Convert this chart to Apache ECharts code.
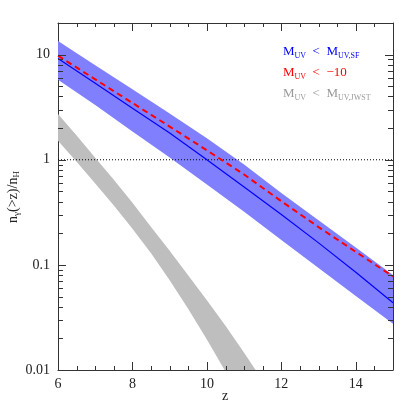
<!DOCTYPE html>
<html lang="en">
<head>
<meta charset="UTF-8">
<script src="https://cdn.jsdelivr.net/npm/echarts@6/dist/echarts.min.js"></script>
<style>
  html, body { margin: 0; padding: 0; background: #fff; }
  #main { width: 415px; height: 415px; }
</style>
</head>
<body>
<div id="main"></div>
<script>
// blue band: photon density for M_UV < M_UV,SF
var zSf = [6, 7, 8, 9, 10, 11, 12, 13, 14, 15];
var sfUpper = [13.5, 7.94, 4.68, 2.75, 1.60, 0.90, 0.484, 0.266, 0.146, 0.080];
var sfLower = [5.77, 3.31, 1.86, 1.05, 0.582, 0.32, 0.172, 0.0933, 0.0507, 0.0275];
var sfMid = [9.2, 5.33, 3.09, 1.80, 1.0, 0.55, 0.302, 0.162, 0.085, 0.0437];
var cutMinus10 = [9.77, 5.82, 3.47, 2.07, 1.23, 0.724, 0.403, 0.229, 0.133, 0.0776];

// gray band: M_UV < M_UV,JWST
var zJwst = [6, 6.5, 7, 7.5, 8, 8.5, 9, 9.5, 10, 10.5, 11, 11.5];
var jwstUpper = [2.73, 1.70, 1.047, 0.646, 0.389, 0.229, 0.1365, 0.0794, 0.0462, 0.0263, 0.0146, 0.0079];
var jwstLower = [1.514, 0.955, 0.596, 0.367, 0.221, 0.129, 0.0716, 0.0380, 0.0195, 0.00966, 0.00462, 0.00214];

// reference level n_gamma / n_H = 1
var unityZ = [6, 15];
var unityLevel = [1, 1];

// ticks
var xMajor = [6, 8, 10, 12, 14];
var xMinor = [6.5, 7, 7.5, 8.5, 9, 9.5, 10.5, 11, 11.5, 12.5, 13, 13.5, 14.5];
var yMajor = [0.01, 0.1, 1, 10];
var yMinor = [0.02, 0.03, 0.04, 0.05, 0.06, 0.07, 0.08, 0.09,
              0.2, 0.3, 0.4, 0.5, 0.6, 0.7, 0.8, 0.9,
              2, 3, 4, 5, 6, 7, 8, 9];

var serif = 'Liberation Serif';
var axisColor = '#333';

function pairs(xs, ys) {
    return xs.map(function (x, i) { return [x, ys[i]]; });
}

function band(zs, upper, lower, color) {
    return {
        type: 'custom',
        silent: true,
        data: [[zs[0], upper[0]]],
        renderItem: function (params, api) {
            var pts = [];
            for (var i = 0; i < zs.length; i++) pts.push(api.coord([zs[i], upper[i]]));
            for (var j = zs.length - 1; j >= 0; j--) pts.push(api.coord([zs[j], lower[j]]));
            var cs = params.coordSys;
            return {
                type: 'polygon',
                shape: { points: pts },
                style: { fill: color },
                clipPath: { type: 'rect', shape: { x: cs.x, y: cs.y, width: cs.width, height: cs.height } }
            };
        }
    };
}

// inward ticks on both opposite frame edges, placed through the axis scales
function ticks(values, isX, len) {
    return {
        type: 'custom',
        silent: true,
        z: 5,
        data: values.map(function (v) { return isX ? [v, 1] : [6, v]; }),
        renderItem: function (params, api) {
            var cs = params.coordSys;
            var p = api.coord([api.value(0), api.value(1)]);
            var st = { stroke: axisColor, lineWidth: 1 };
            if (isX) {
                var x = Math.round(p[0]) + 0.5;
                var b = cs.y + cs.height, t = cs.y;
                return { type: 'group', children: [
                    { type: 'line', shape: { x1: x, y1: b, x2: x, y2: b - len }, style: st },
                    { type: 'line', shape: { x1: x, y1: t, x2: x, y2: t + len }, style: st }
                ] };
            }
            var y = Math.round(p[1]) + 0.5;
            var l = cs.x, r = cs.x + cs.width;
            return { type: 'group', children: [
                { type: 'line', shape: { x1: l, y1: y, x2: l + len, y2: y }, style: st },
                { type: 'line', shape: { x1: r, y1: y, x2: r - len, y2: y }, style: st }
            ] };
        }
    };
}

function xAx(pos, labels) {
    return {
        type: 'value', min: 6, max: 15, position: pos,
        axisLine: { show: true, onZero: false, lineStyle: { color: axisColor, width: 1 } },
        splitLine: { show: false },
        axisTick: { show: false },
        axisLabel: labels ? {
            customValues: xMajor, margin: 7, color: '#222',
            fontFamily: serif, fontSize: 14
        } : { show: false }
    };
}

function yAx(pos, labels) {
    return {
        type: 'log', logBase: 10, min: 0.01, max: 20, position: pos,
        axisLine: { show: true, onZero: false, lineStyle: { color: axisColor, width: 1 } },
        splitLine: { show: false },
        axisTick: { show: false },
        axisLabel: labels ? {
            customValues: yMajor, margin: 8, color: '#222',
            fontFamily: serif, fontSize: 14,
            formatter: function (v) { return String(+v.toPrecision(3)); }
        } : { show: false }
    };
}

function textRich(color, big, small) {
    return {
        m: { fontFamily: serif, fontSize: big, lineHeight: 16, fill: color },
        s: { fontFamily: serif, fontSize: small, lineHeight: 6, verticalAlign: 'bottom', fill: color }
    };
}

var chart = echarts.init(document.getElementById('main'));

chart.setOption({
    animation: false,
    grid: { left: 58, right: 22, top: 23, bottom: 45 },
    xAxis: [
        xAx('bottom', true),
        xAx('top', false)
    ],
    yAxis: [
        yAx('left', true),
        yAx('right', false)
    ],
    series: [
        band(zJwst, jwstUpper, jwstLower, '#bebebe'),
        band(zSf, sfUpper, sfLower, '#8080ff'),
        {
            type: 'line', data: pairs(unityZ, unityLevel), symbol: 'none', silent: true,
            lineStyle: { color: '#000', width: 1, type: [1, 2] }
        },
        {
            type: 'line', data: pairs(zSf, sfMid), symbol: 'none', silent: true,
            lineStyle: { color: '#0000ff', width: 1.2 }
        },
        {
            type: 'line', data: pairs(zSf, cutMinus10), symbol: 'none', silent: true,
            lineStyle: { color: '#ff0000', width: 2, type: [6, 4] }
        },
        ticks(xMajor, true, 8),
        ticks(xMinor, true, 4),
        ticks(yMajor, false, 8),
        ticks(yMinor, false, 5)
    ],
    graphic: [
        {
            type: 'text', x: 225, y: 396,
            style: {
                text: 'z', align: 'center', verticalAlign: 'middle',
                fontFamily: serif, fontSize: 14, fill: '#222'
            }
        },
        {
            type: 'text', x: 13, y: 197, rotation: Math.PI / 2,
            style: {
                text: '{m|n}{s|γ}{m|(>z)/n}{s|H}',
                align: 'center', verticalAlign: 'middle', rich: textRich('#222', 14, 9)
            }
        },
        {
            type: 'text', x: 283, y: 52,
            style: {
                text: '{m|M}{s|UV}{m|  <  M}{s|UV,SF}',
                align: 'left', verticalAlign: 'middle', rich: textRich('#0000ff', 13, 8)
            }
        },
        {
            type: 'text', x: 283, y: 73,
            style: {
                text: '{m|M}{s|UV}{m|  <  −10}',
                align: 'left', verticalAlign: 'middle', rich: textRich('#ff0000', 13, 8)
            }
        },
        {
            type: 'text', x: 283, y: 94,
            style: {
                text: '{m|M}{s|UV}{m|  <  M}{s|UV,JWST}',
                align: 'left', verticalAlign: 'middle', rich: textRich('#999999', 13, 8)
            }
        }
    ]
});
</script>
</body>
</html>
